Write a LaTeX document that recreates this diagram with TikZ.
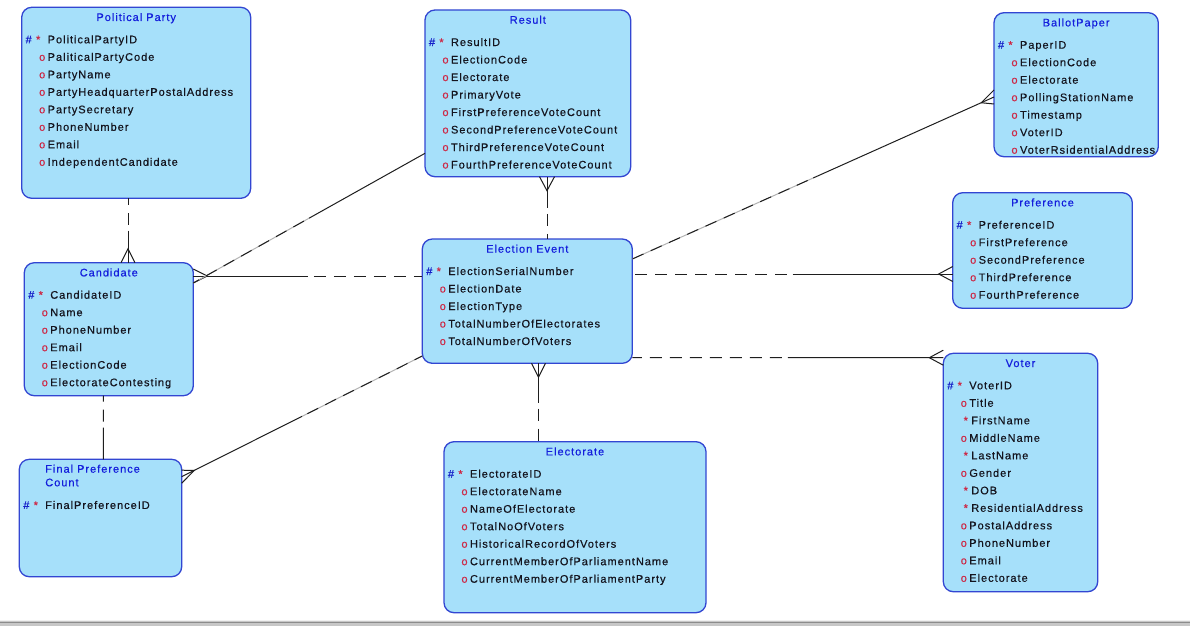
\documentclass[tikz,border=0pt]{standalone}
\usepackage{fontspec}
\usetikzlibrary{calc}
\newfontfamily\erfont[LetterSpace=9,FakeBold=0.45]{Liberation Sans}
\definecolor{boxfill}{RGB}{166,224,250}
\definecolor{boxline}{RGB}{50,70,210}
\definecolor{titleblue}{RGB}{20,30,220}
\definecolor{hashblue}{RGB}{20,30,200}
\definecolor{markred}{RGB}{205,40,70}
\definecolor{attrtext}{RGB}{20,20,30}
\definecolor{relcol}{RGB}{30,30,30}
\tikzset{
  ebox/.style={draw=boxline, fill=boxfill, line width=1.3pt, rounded corners=10pt, anchor=north west, inner sep=0pt, outer sep=0pt},
  erf/.style={font=\erfont\fontsize{11}{13}\selectfont, inner sep=0pt, outer sep=0pt},
  ttl/.style={erf, text=titleblue, anchor=base},
  attr/.style={erf, text=attrtext, anchor=base west},
  mkh/.style={erf, text=hashblue, anchor=base},
  mkr/.style={erf, text=markred, anchor=base},
  rel/.style={draw=relcol, line width=1pt},
  reldash/.style={rel, dash pattern=on 12pt off 8pt, dash phase=14pt},
  relgray/.style={draw=black!30, line width=1pt},
}
\newcommand\ertitle[2]{\node[ttl] (#1-title) at ($(#1.north)+(0,13.7)$) {#2};}
\newcommand\erid[3]{%
  \node[mkh] (#1-#3-h) at ($(#1.north west)+(7,{36+17.5*#2})$) {\#};
  \node[mkr] (#1-#3-s) at ($(#1.north west)+(16.5,{36+17.5*#2})$) {*};
  \node[attr] (#1-#3) at ($(#1.north west)+(26,{36+17.5*#2})$) {#3};}
\newcommand\eropt[3]{%
  \node[mkr] (#1-#3-o) at ($(#1.north west)+(20.5,{36+17.5*#2})$) {o};
  \node[attr] (#1-#3) at ($(#1.north west)+(26,{36+17.5*#2})$) {#3};}
\newcommand\ermand[3]{%
  \node[mkr] (#1-#3-s) at ($(#1.north west)+(22.5,{36+17.5*#2})$) {*};
  \node[attr] (#1-#3) at ($(#1.north west)+(28,{36+17.5*#2})$) {#3};}
\newcommand\crowfoot[4]{%
  \draw[rel] ($(#1)+(#3,#4)$) -- ($(#1)!14pt!(#2)$) -- ($(#1)+(-#3,-#4)$);}
\begin{document}
\begin{tikzpicture}[x=1pt,y=-1pt]
\fill[white] (0,0) rectangle (1190,626);
\useasboundingbox (0,0) rectangle (1190,626);
% bottom frame line
\fill[black!22] (0,619.5) rectangle (1190,626);
\draw[black!45, line width=1.4pt] (0,622.3) -- (1190,622.3);
\draw[white!70!black!20, line width=0.8pt] (0,620) -- (1190,620);

% ---------- entities ----------
\node[ebox, minimum width=229pt, minimum height=191pt] (pp) at (21.7,7.3) {};
\node[ebox, minimum width=205.7pt, minimum height=166.7pt] (res) at (425,10) {};
\node[ebox, minimum width=164.3pt, minimum height=144pt] (bp) at (994,12.7) {};
\node[ebox, minimum width=169pt, minimum height=133pt] (cand) at (24.3,262.7) {};
\node[ebox, minimum width=162.4pt, minimum height=117.4pt] (fpc) at (19.3,459.3) {};
\node[ebox, minimum width=210pt, minimum height=124.3pt] (ee) at (422.3,239) {};
\node[ebox, minimum width=179.6pt, minimum height=115.6pt] (pref) at (952.7,192.7) {};
\node[ebox, minimum width=154.4pt, minimum height=238.4pt] (voter) at (943.3,353.3) {};
\node[ebox, minimum width=262pt, minimum height=171pt] (elec) at (444,441.7) {};

% Political Party
\ertitle{pp}{Political Party}
\erid{pp}{0}{PoliticalPartyID}
\eropt{pp}{1}{PaliticalPartyCode}
\eropt{pp}{2}{PartyName}
\eropt{pp}{3}{PartyHeadquarterPostalAddress}
\eropt{pp}{4}{PartySecretary}
\eropt{pp}{5}{PhoneNumber}
\eropt{pp}{6}{Email}
\eropt{pp}{7}{IndependentCandidate}

% Result
\ertitle{res}{Result}
\erid{res}{0}{ResultID}
\eropt{res}{1}{ElectionCode}
\eropt{res}{2}{Electorate}
\eropt{res}{3}{PrimaryVote}
\eropt{res}{4}{FirstPreferenceVoteCount}
\eropt{res}{5}{SecondPreferenceVoteCount}
\eropt{res}{6}{ThirdPreferenceVoteCount}
\eropt{res}{7}{FourthPreferenceVoteCount}

% BallotPaper
\ertitle{bp}{BallotPaper}
\erid{bp}{0}{PaperID}
\eropt{bp}{1}{ElectionCode}
\eropt{bp}{2}{Electorate}
\eropt{bp}{3}{PollingStationName}
\eropt{bp}{4}{Timestamp}
\eropt{bp}{5}{VoterID}
\eropt{bp}{6}{VoterRsidentialAddress}

% Candidate
\ertitle{cand}{Candidate}
\erid{cand}{0}{CandidateID}
\eropt{cand}{1}{Name}
\eropt{cand}{2}{PhoneNumber}
\eropt{cand}{3}{Email}
\eropt{cand}{4}{ElectionCode}
\eropt{cand}{5}{ElectorateContesting}

% Final Preference Count
\node[ttl, anchor=base west] (fpc-title) at ($(fpc.north west)+(26,13.4)$) {Final Preference};
\node[ttl, anchor=base west] (fpc-title2) at ($(fpc.north west)+(26,27)$) {Count};
\erid{fpc}{0.78}{FinalPreferenceID}

% Election Event
\ertitle{ee}{Election Event}
\erid{ee}{0}{ElectionSerialNumber}
\eropt{ee}{1}{ElectionDate}
\eropt{ee}{2}{ElectionType}
\eropt{ee}{3}{TotalNumberOfElectorates}
\eropt{ee}{4}{TotalNumberOfVoters}

% Preference
\ertitle{pref}{Preference}
\erid{pref}{0}{PreferenceID}
\eropt{pref}{1}{FirstPreference}
\eropt{pref}{2}{SecondPreference}
\eropt{pref}{3}{ThirdPreference}
\eropt{pref}{4}{FourthPreference}

% Voter
\ertitle{voter}{Voter}
\erid{voter}{0}{VoterID}
\eropt{voter}{1}{Title}
\ermand{voter}{2}{FirstName}
\eropt{voter}{3}{MiddleName}
\ermand{voter}{4}{LastName}
\eropt{voter}{5}{Gender}
\ermand{voter}{6}{DOB}
\ermand{voter}{7}{ResidentialAddress}
\eropt{voter}{8}{PostalAddress}
\eropt{voter}{9}{PhoneNumber}
\eropt{voter}{10}{Email}
\eropt{voter}{11}{Electorate}

% Electorate
\ertitle{elec}{Electorate}
\erid{elec}{0}{ElectorateID}
\eropt{elec}{1}{ElectorateName}
\eropt{elec}{2}{NameOfElectorate}
\eropt{elec}{3}{TotalNoOfVoters}
\eropt{elec}{4}{HistoricalRecordOfVoters}
\eropt{elec}{5}{CurrentMemberOfParliamentName}
\eropt{elec}{6}{CurrentMemberOfParliamentParty}

% ---------- relationships ----------
% Political Party -- Candidate
\coordinate (r1a) at ($(pp.south west)+(106.3,0)$);
\coordinate (r1b) at ($(cand.north west)+(103.7,0)$);
\coordinate (r1m) at ($(r1a)!0.5!(r1b)$);
\draw[reldash] (r1m) -- (r1a);
\draw[rel] (r1m) -- (r1b);
\crowfoot{r1b}{r1a}{7}{0}

% Candidate -- Election Event
\coordinate (r2a) at ($(cand.north east)+(0,13.3)$);
\coordinate (r2b) at ($(ee.north west)+(0,37)$);
\coordinate (r2m) at ($(r2a)!0.5!(r2b)$);
\draw[rel] (r2m) -- (r2a);
\draw[reldash] (r2m) -- (r2b);
\crowfoot{r2a}{r2b}{0}{7}

% Candidate -- Result
\coordinate (r3a) at ($(cand.north east)+(0,20.3)$);
\coordinate (r3b) at ($(res.north west)+(0,143.3)$);
\coordinate (r3m) at ($(r3a)!0.5!(r3b)$);
\draw[relgray] (r3m) -- (r3a);
\draw[reldash] (r3m) -- (r3a);
\draw[rel] (r3m) -- (r3b);

% Result -- Election Event
\coordinate (r4a) at ($(res.south west)+(122,0)$);
\coordinate (r4b) at ($(ee.north west)+(124.7,0)$);
\coordinate (r4m) at ($(r4a)!0.5!(r4b)$);
\draw[rel] (r4m) -- (r4a);
\draw[reldash] (r4m) -- (r4b);
\crowfoot{r4a}{r4b}{7.5}{0}

% Election Event -- BallotPaper
\coordinate (r5a) at ($(ee.north east)+(0,20)$);
\coordinate (r5b) at ($(bp.north west)+(0,84.3)$);
\coordinate (r5m) at ($(r5a)!0.5!(r5b)$);
\draw[relgray] (r5m) -- (r5a);
\draw[reldash] (r5m) -- (r5a);
\draw[rel] (r5m) -- (r5b);
\crowfoot{r5b}{r5a}{0}{7}

% Election Event -- Preference
\coordinate (r6a) at ($(ee.north east)+(0,35)$);
\coordinate (r6b) at ($(pref.north west)+(0,81.3)$);
\coordinate (r6m) at ($(r6a)!0.5!(r6b)$);
\draw[reldash] (r6m) -- (r6a);
\draw[rel] (r6m) -- (r6b);
\crowfoot{r6b}{r6a}{0}{7.5}

% Election Event -- Voter
\coordinate (r7a) at ($(ee.north east)+(0,118.7)$);
\coordinate (r7b) at ($(voter.north west)+(0,4.4)$);
\coordinate (r7m) at ($(r7a)!0.5!(r7b)$);
\draw[reldash] (r7m) -- (r7a);
\draw[rel] (r7m) -- (r7b);
\crowfoot{r7b}{r7a}{0}{7.5}

% Election Event -- Electorate
\coordinate (r8a) at ($(ee.south west)+(116.2,0)$);
\coordinate (r8b) at ($(elec.north west)+(94.5,0)$);
\coordinate (r8m) at ($(r8a)!0.5!(r8b)$);
\draw[rel] (r8m) -- (r8a);
\draw[reldash] (r8m) -- (r8b);
\crowfoot{r8a}{r8b}{7}{0}

% Candidate -- Final Preference Count
\coordinate (r9a) at ($(cand.south west)+(79,0)$);
\coordinate (r9b) at ($(fpc.north west)+(84,0)$);
\coordinate (r9m) at ($(r9a)!0.5!(r9b)$);
\draw[reldash] (r9m) -- (r9a);
\draw[rel] (r9m) -- (r9b);

% Election Event -- Final Preference Count
\coordinate (r10a) at ($(ee.north west)+(0,117)$);
\coordinate (r10b) at ($(fpc.north east)+(0,17.4)$);
\coordinate (r10m) at ($(r10a)!0.5!(r10b)$);
\draw[relgray] (r10m) -- (r10a);
\draw[reldash] (r10m) -- (r10a);
\draw[rel] (r10m) -- (r10b);
\crowfoot{r10b}{r10a}{0}{6.5}
\end{tikzpicture}
\end{document}
